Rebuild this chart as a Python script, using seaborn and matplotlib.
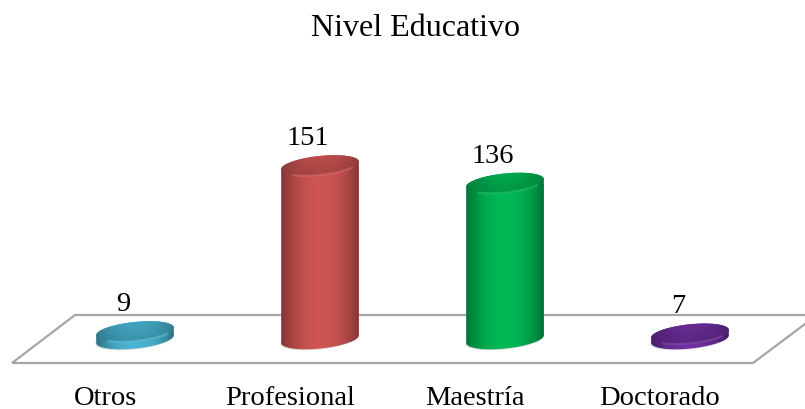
import numpy as np
import matplotlib
matplotlib.use("Agg")
import matplotlib.pyplot as plt
import seaborn as sns
from matplotlib.path import Path
from matplotlib.patches import Polygon, Rectangle
from matplotlib.colors import to_rgb
from matplotlib.transforms import IdentityTransform, ScaledTranslation

categories = ["Otros", "Profesional", "Maestría", "Doctorado"]
values = [9, 151, 136, 7]
colors = ["#4ab5d3", "#cf5553", "#00b956", "#7030a0"]
title = "Nivel Educativo"

W, H = 805, 410
FONT = ["Liberation Serif", "DejaVu Serif"]
plt.rcParams["font.family"] = FONT
sns.set_style("white")
plt.rcParams["font.family"] = FONT

A, B, TILT = 39.0, 9.5, np.deg2rad(6)
BASE_PX = 340  # floor centre of cylinder bases, px from top


def yflip(y):
    return H - y


fig = plt.figure(figsize=(W / 100, H / 100), dpi=100)
fig.patch.set_facecolor("white")
ax = fig.add_axes([0, 44 / H, 1, 1 - 44 / H])
ax.patch.set_alpha(0)

sns.barplot(x=categories, y=values, hue=categories, palette=colors, saturation=1,
            width=78 / 185, legend=False, ax=ax, dodge=False, zorder=3)

px_per_val = 1.169
xlim = (-135 / 185, (W - 135) / 185)
ylim = ((343 - 366) / px_per_val, 343 / px_per_val)
ax.set_xlim(xlim)
ax.set_ylim(ylim)
ax.set_xticks(range(len(categories)), categories)
ax.set_yticks([])
ax.set_xlabel("")
ax.set_ylabel("")
ax.tick_params(axis="x", length=0, pad=14.5, labelsize=20.5, labelcolor="black")
shift = ScaledTranslation(-30 / 100, 0, fig.dpi_scale_trans)
for lab in ax.get_xticklabels():
    lab.set_transform(lab.get_transform() + shift)
sns.despine(ax=ax, left=True, bottom=True, top=True, right=True)

fig.text(415 / W, 1 - 29 / H, title, ha="center", va="center", fontsize=23, color="black")

bars = sorted([p for p in ax.patches if isinstance(p, Rectangle)], key=lambda p: p.get_x())

# floor outline (decorative), in figure pixels
floor = Polygon(
    [(12, yflip(364)), (753, yflip(364)), (817, yflip(316)), (75, yflip(316))],
    closed=True, fill=False, edgecolor="#a6a6a6", linewidth=1.6,
    transform=IdentityTransform(), zorder=1, joinstyle="miter", clip_on=False,
)
ax.add_patch(floor)


def ellipse_pts(cx, cy, t):
    x = A * np.cos(t)
    y = B * np.sin(t)
    return np.column_stack((cx + x * np.cos(TILT) - y * np.sin(TILT),
                            cy + x * np.sin(TILT) + y * np.cos(TILT)))


to_disp = ax.transData
to_data = ax.transData.inverted()

for bar, col in zip(bars, colors):
    rgb = np.array(to_rgb(col))
    x0 = bar.get_x()
    top = bar.get_height()
    cx, cy_top = to_disp.transform((x0 + bar.get_width() / 2, top))
    cy_base = yflip(BASE_PX)

    # cylinder silhouette: front arc of base + rear arc of the top
    lower = ellipse_pts(cx, cy_base, np.linspace(np.pi, 2 * np.pi, 60))
    upper = ellipse_pts(cx, cy_top, np.linspace(0, np.pi, 60))
    body_pts = np.vstack((lower, upper, lower[:1]))
    body = Path(body_pts, closed=True)
    bar.set_clip_path(body, IdentityTransform())

    # soft shadow below
    sh = ellipse_pts(cx - 1, cy_base - 1, np.linspace(0, 2 * np.pi, 80))
    ax.add_patch(Polygon(sh, closed=True, facecolor="#888888", alpha=0.3,
                         edgecolor="none", transform=IdentityTransform(), zorder=2))

    # horizontal shading of the side wall
    u = np.linspace(0, 1, 160)
    shade = 0.55 + 0.45 * np.sin(np.pi * u) ** 0.7
    img = (rgb[None, None, :] * shade[None, :, None]).clip(0, 1)
    y_lo = to_data.transform((0, cy_base - B - 4))[1]
    y_hi = to_data.transform((0, cy_top + B + 6))[1]
    xl = to_data.transform((cx - A - 1, 0))[0]
    xr = to_data.transform((cx + A + 1, 0))[0]
    im = ax.imshow(img, extent=(xl, xr, y_lo, y_hi), aspect="auto", zorder=4,
                   interpolation="bilinear")
    im.set_clip_path(body, IdentityTransform())

    # top face: darker, lighter toward the centre front
    cap = Path(ellipse_pts(cx, cy_top, np.linspace(0, 2 * np.pi, 120)), closed=True)
    uu, vv = np.meshgrid(np.linspace(-1, 1, 160), np.linspace(1, 0, 60))
    cap_shade = 0.68 + 0.1 * (1 - uu ** 2) + 0.16 * vv * (1 - uu ** 2)
    cap_img = (rgb[None, None, :] * cap_shade[:, :, None]).clip(0, 1)
    yl = to_data.transform((0, cy_top - B - 5))[1]
    yh = to_data.transform((0, cy_top + B + 5))[1]
    im2 = ax.imshow(cap_img, extent=(xl, xr, yl, yh), aspect="auto", zorder=5,
                    interpolation="bilinear")
    im2.set_clip_path(cap, IdentityTransform())

    # soft bright rim at the front of the top face
    rim = ellipse_pts(cx, cy_top, np.linspace(np.pi * 1.25, np.pi * 1.8, 40))
    ax.plot(rim[:, 0], rim[:, 1], color=tuple((rgb * 0.85 + 0.15).clip(0, 1)), lw=1.6,
            alpha=0.55, transform=IdentityTransform(), zorder=6, solid_capstyle="round")

    # value label
    ax.annotate(f"{top:.0f}", xy=(cx, cy_top), xycoords=IdentityTransform(),
                xytext=(-12 * 0.72, 28 * 0.72), textcoords="offset points",
                ha="center", va="center", fontsize=20.5, color="black", zorder=7,
                annotation_clip=False)

ax.set_xlim(xlim)
ax.set_ylim(ylim)
fig.savefig("out.png", dpi=100)
